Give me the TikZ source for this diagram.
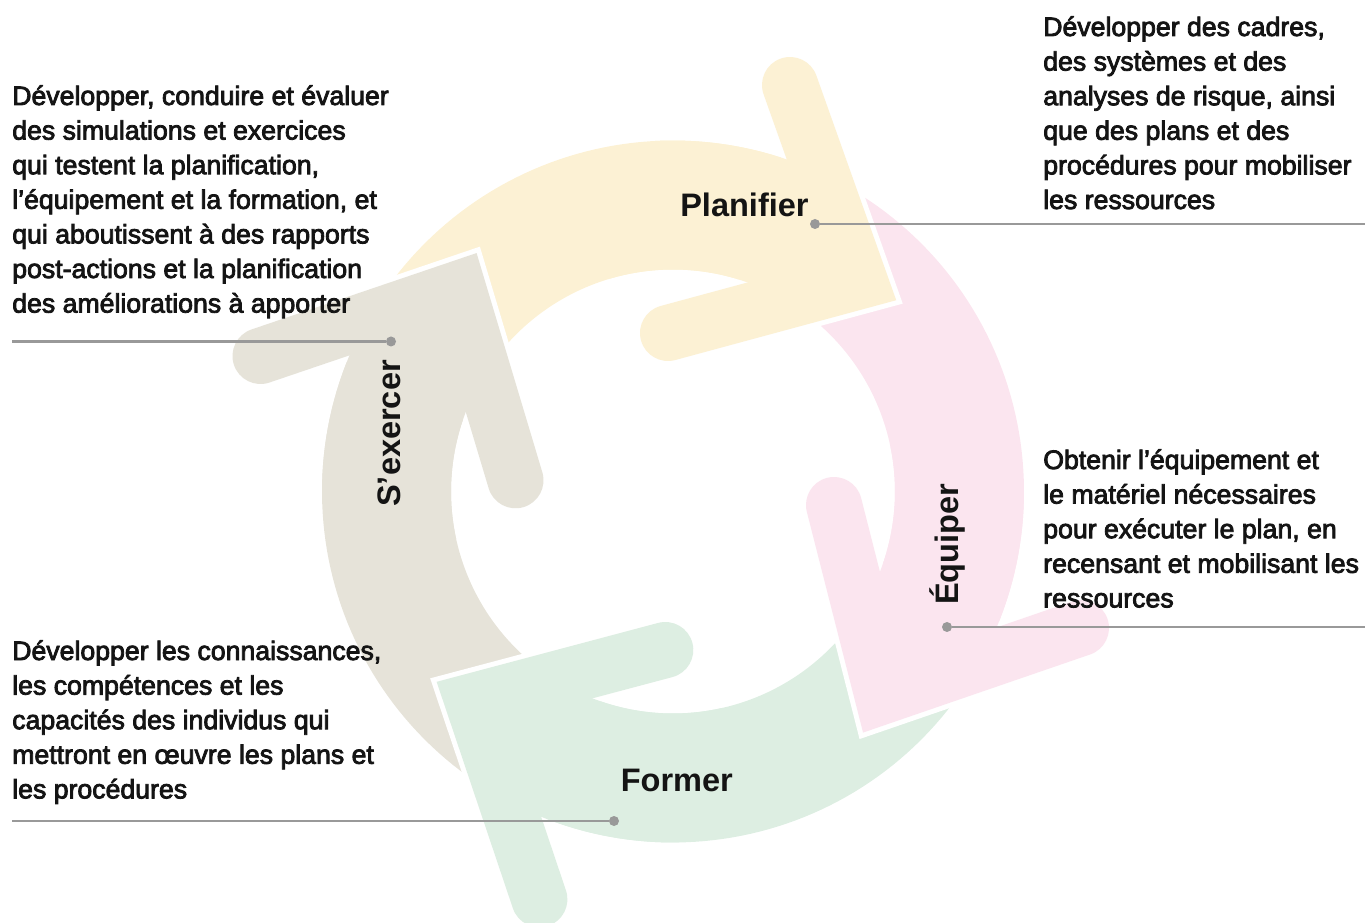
\documentclass[tikz,border=0pt]{standalone}
\usepackage{fontspec}
\setmainfont{Liberation Sans}
\newfontfamily\bodyfont{Liberation Sans}[FakeBold=3]
\usetikzlibrary{calc}

\definecolor{planfill}{HTML}{FCF1D4}
\definecolor{equipfill}{HTML}{FBE5EF}
\definecolor{formfill}{HTML}{DDEEE2}
\definecolor{exerfill}{HTML}{E6E3D9}
\definecolor{rulegray}{HTML}{999999}
\definecolor{inkblack}{HTML}{141414}

% left-aligned lines, baseline of the block = baseline of its first line
\newcommand\textlines[1]{\vtop{\baselineskip=25.95pt\lineskiplimit=-30pt\halign{##\hfil\cr#1\crcr}}}

% annular band of the cycle between two angles (clockwise on the page)
\newcommand\ringband[2]{plot[domain=#1:#2,samples=90] ({673+351*cos(\x)},{491.5+351*sin(\x)}) -- plot[domain=#2:#1,samples=90] ({673+222*cos(\x)},{491.5+222*sin(\x)}) -- cycle}

\tikzset{
  headwhite/.style={draw=white, line width=49.5pt, line cap=round, line join=miter},
  headbody/.style={line width=42pt, line cap=round, line join=miter},
  bodytext/.style={anchor=base west, inner sep=0pt, text=inkblack,
    font=\bodyfont\fontsize{20pt}{25.95pt}\selectfont},
  cyclelabel/.style={anchor=base west, inner sep=0pt, text=inkblack,
    font=\bfseries\fontsize{24.4pt}{28pt}\selectfont},
  ruledot/.style={circle, fill=rulegray, inner sep=0pt, minimum size=7.5pt},
  leader/.style={draw=rulegray, line width=1.9pt},
}

\begin{document}
\begin{tikzpicture}[x=0.75pt, y=-0.75pt]
\useasboundingbox (0,0) rectangle (1365,923);

% chevron geometry: inner cap, corner, outer cap
\coordinate (pA) at (668,333);     \coordinate (pV) at (859.7,281.1); \coordinate (pB) at (790,85);
\coordinate (eA) at (834,505);     \coordinate (eV) at (882.7,696.2); \coordinate (eB) at (1081,628);
\coordinate (fA) at (665.3,650);   \coordinate (fV) at (472.7,701.2); \coordinate (fB) at (539.4,899.3);
\coordinate (sA) at (515.5,480.3); \coordinate (sV) at (458.1,288.9); \coordinate (sB) at (260.5,356);

% --- bodies of the four arrows, each cut to the opening of its own head
\begin{scope}
  \clip (pV) -- ($(pV)!6!(pA)$) -- ($(pV)!6!(pB)$) -- cycle;
  \fill[planfill] \ringband{-152}{-15};
\end{scope}
\begin{scope}
  \clip (eV) -- ($(eV)!6!(eA)$) -- ($(eV)!6!(eB)$) -- cycle;
  \fill[equipfill] \ringband{-62}{75};
\end{scope}
\begin{scope}
  \clip (fV) -- ($(fV)!6!(fA)$) -- ($(fV)!6!(fB)$) -- cycle;
  \fill[formfill] \ringband{28}{165};
\end{scope}
\begin{scope}
  \clip (sV) -- ($(sV)!6!(sA)$) -- ($(sV)!6!(sB)$) -- cycle;
  \fill[exerfill] \ringband{118}{255};
\end{scope}

% --- heads, outlined in white where they lie over the next arrow
\draw[headwhite] (pA) -- (pV) -- (pB);
\draw[headbody, draw=planfill] (pA) -- (pV) -- (pB);
\begin{scope}
  \clip (pV) -- ($(pV)!6!(pA)$) -- ($(pV)!6!(pB)$) -- cycle;
  \clip (pV) circle[radius=187.5pt];
  \fill[planfill] \ringband{-152}{-15};
\end{scope}

\draw[headwhite] (eA) -- (eV) -- (eB);
\draw[headbody, draw=equipfill] (eA) -- (eV) -- (eB);
\begin{scope}
  \clip (eV) -- ($(eV)!6!(eA)$) -- ($(eV)!6!(eB)$) -- cycle;
  \clip (eV) circle[radius=187.5pt];
  \fill[equipfill] \ringband{-62}{75};
\end{scope}

\draw[headwhite] (fA) -- (fV) -- (fB);
\draw[headbody, draw=formfill] (fA) -- (fV) -- (fB);
\begin{scope}
  \clip (fV) -- ($(fV)!6!(fA)$) -- ($(fV)!6!(fB)$) -- cycle;
  \clip (fV) circle[radius=187.5pt];
  \fill[formfill] \ringband{28}{165};
\end{scope}

\draw[headwhite] (sA) -- (sV) -- (sB);
\draw[headbody, draw=exerfill] (sA) -- (sV) -- (sB);
\begin{scope}
  \clip (sV) -- ($(sV)!6!(sA)$) -- ($(sV)!6!(sB)$) -- cycle;
  \clip (sV) circle[radius=187.5pt];
  \fill[exerfill] \ringband{118}{255};
\end{scope}

% --- step names
\node[cyclelabel] (lplan) at (680,217) {Planifier};
\node[cyclelabel] (lform) at (620.5,791.5) {Former};
\node[cyclelabel, rotate=90] (lexer) at (400,507) {S’exercer};
\node[cyclelabel, rotate=90] (lequip) at (958,605) {Équiper};

% --- leader lines with their dots
\node[ruledot] (dplan) at (815,224) {};
\node[ruledot] (dexer) at (391,341.5) {};
\node[ruledot] (dequip) at (947,627) {};
\node[ruledot] (dform) at (614,821) {};
\coordinate (xplan) at (1365,224);
\coordinate (xexer) at (12,341.5);
\coordinate (xequip) at (1365,627);
\coordinate (xform) at (12,821);
\draw[leader] (dplan) -- (xplan);
\draw[leader] (dexer) -- (xexer);
\draw[leader] (dequip) -- (xequip);
\draw[leader] (dform) -- (xform);

% --- descriptions
\node[bodytext] (tplan) at (1043,36) {\textlines{%
Développer des cadres,\cr
des systèmes et des\cr
analyses de risque, ainsi\cr
que des plans et des\cr
procédures pour mobiliser\cr
les ressources}};

\node[bodytext] (texer) at (12,105) {\textlines{%
Développer, conduire et évaluer\cr
des simulations et exercices\cr
qui testent la planification,\cr
l’équipement et la formation, et\cr
qui aboutissent à des rapports\cr
post-actions et la planification\cr
des améliorations à apporter}};

\node[bodytext] (tequip) at (1043,469) {\textlines{%
Obtenir l’équipement et\cr
le matériel nécessaires\cr
pour exécuter le plan, en\cr
recensant et mobilisant les\cr
ressources}};

\node[bodytext] (tform) at (12,660) {\textlines{%
Développer les connaissances,\cr
les compétences et les\cr
capacités des individus qui\cr
mettront en œuvre les plans et\cr
les procédures}};
\end{tikzpicture}
\end{document}
